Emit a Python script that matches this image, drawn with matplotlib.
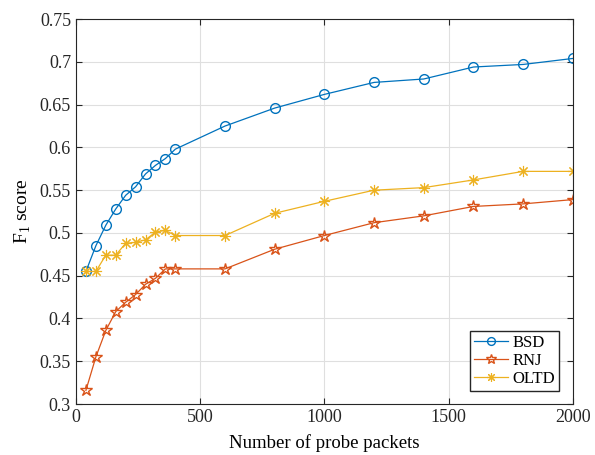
import matplotlib
matplotlib.use('Agg')
import matplotlib.pyplot as plt

plt.rcParams['font.family'] = ['Liberation Serif', 'DejaVu Serif']
plt.rcParams['mathtext.fontset'] = 'custom'
plt.rcParams['mathtext.rm'] = 'Liberation Serif'

packets = [40, 80, 120, 160, 200, 240, 280, 320, 360, 400, 600, 800, 1000, 1200, 1400, 1600, 1800, 2000]
bsd = [0.455, 0.485, 0.509, 0.528, 0.544, 0.554, 0.569, 0.579, 0.587, 0.598, 0.625, 0.646, 0.662, 0.676, 0.680, 0.694, 0.697, 0.704]
rnj = [0.316, 0.355, 0.386, 0.408, 0.419, 0.428, 0.440, 0.447, 0.458, 0.458, 0.458, 0.481, 0.497, 0.512, 0.520, 0.531, 0.534, 0.539]
oltd = [0.455, 0.455, 0.474, 0.474, 0.488, 0.489, 0.492, 0.501, 0.503, 0.497, 0.497, 0.523, 0.537, 0.550, 0.553, 0.562, 0.572, 0.572]

fig = plt.figure(figsize=(5.95, 4.55), dpi=100)
ax = fig.add_axes([0.1277, 0.112, 0.835, 0.846])

ax.plot(packets, bsd, color='#0072BD', marker='o', markerfacecolor='none', markersize=7, linewidth=0.9, label='BSD')
ax.plot(packets, rnj, color='#D95319', marker='*', markerfacecolor='none', markersize=9, linewidth=0.9, label='RNJ')
ax.plot(packets, oltd, color='#EDB120', marker=(8, 2, 0), markersize=8, markeredgewidth=0.8, linewidth=0.9, label='OLTD')

ax.set_xlim(0, 2000)
ax.set_ylim(0.3, 0.75)
ax.set_xticks([0, 500, 1000, 1500, 2000])
ax.set_yticks([0.3, 0.35, 0.4, 0.45, 0.5, 0.55, 0.6, 0.65, 0.7, 0.75])
ax.set_yticklabels(['0.3', '0.35', '0.4', '0.45', '0.5', '0.55', '0.6', '0.65', '0.7', '0.75'])
ax.grid(True, color='#dfdfdf', linewidth=0.8)
ax.set_axisbelow(True)
ax.tick_params(direction='in', length=4, labelsize=13, colors='#262626', top=True, right=True)
for s in ax.spines.values():
    s.set_color('#262626')
    s.set_linewidth(0.8)

ax.set_xlabel('Number of probe packets', fontsize=13.5, labelpad=6)
ax.set_ylabel('F$_1$ score', fontsize=14, labelpad=5)
ax.legend(loc='lower right', fontsize=12, fancybox=False, edgecolor='#262626', framealpha=1,
          handlelength=2.0, borderpad=0.25, labelspacing=0.1, handletextpad=0.3,
          borderaxespad=0.8, markerscale=0.8)

fig.savefig('out.png', dpi=100)
